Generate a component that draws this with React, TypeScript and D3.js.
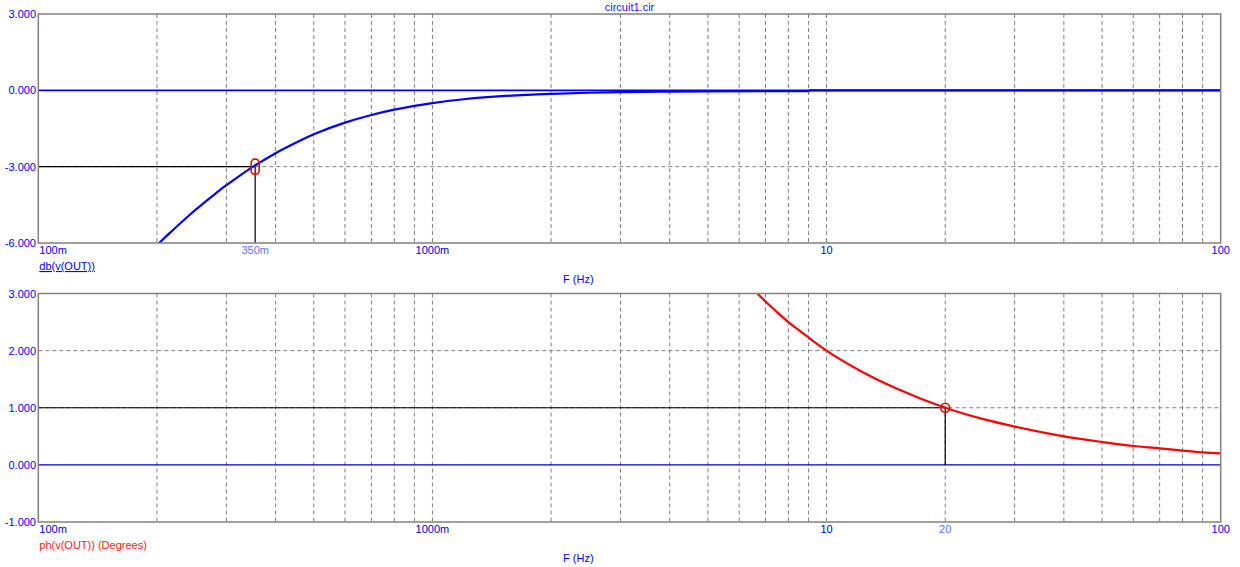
import React from "react";
import * as d3 from "d3";

// ---- data ----
const magFreq = [0.2, 0.21, 0.22, 0.24, 0.25, 0.26, 0.28, 0.3, 0.32, 0.35, 0.4, 0.45, 0.5, 0.6, 0.7, 0.8, 0.9, 1.0, 1.2, 1.5, 2, 2.5, 3, 4, 5, 7, 9, 9.05, 20, 50, 100];
const magDb = [-6.09, -5.77, -5.48, -4.95, -4.71, -4.49, -4.09, -3.73, -3.42, -3.01, -2.47, -2.06, -1.73, -1.27, -0.97, -0.76, -0.61, -0.5, -0.35, -0.23, -0.14, -0.095, -0.07, -0.05, -0.04, -0.035, -0.035, 0.0, 0.0, 0.0, 0.0];
const phFreq = [6.5, 7, 7.5, 8, 8.5, 9, 10, 12, 15, 20, 25, 30, 40, 50, 60, 70, 80, 90, 100];
const phDeg = [3.08, 2.86, 2.67, 2.5, 2.36, 2.23, 2.0, 1.67, 1.34, 1.0, 0.8, 0.67, 0.5, 0.4, 0.33, 0.29, 0.25, 0.22, 0.2];

const xTickVals = [0.1, 1, 10, 100];
const xTickText = ["100m", "1000m", "10", "100"];
const topYTicks = [3, 0, -3, -6];
const botYTicks = [3, 2, 1, 0, -1];
const topMarker = { f: 0.355, v: -3.0, label: "350m" };
const botMarker = { f: 20, v: 1.0, label: "20" };
const title = "circuit1.cir";
const topTrace = "db(v(OUT))";
const botTrace = "ph(v(OUT)) (Degrees)";
const xLabel = "F (Hz)";

const FONT = "'Liberation Sans', Arial, sans-serif";
const L = 38.3;
const R = 1220.7;
const GRID = "#808080";

const x = d3.scaleLog().domain([0.1, 100]).range([L, R]);
const gridFreqs: number[] = [];
[0.1, 1, 10].forEach((d) => {
  for (let k = 1; k <= 9; k++) {
    const v = d * k;
    if (v > 0.1 && v < 100) gridFreqs.push(v);
  }
});

function Panel(props: {
  top: number;
  bottom: number;
  domain: [number, number];
  yTicks: number[];
  freq: number[];
  vals: number[];
  color: string;
  zeroColor: string;
  zeroWidth: number;
  marker: { f: number; v: number; label: string };
  markerBase: number;
  markerShape: "rect" | "circle";
  traceLabel: string;
  traceColor: string;
  underline: boolean;
  id: string;
}) {
  const { top, bottom } = props;
  const y = d3.scaleLinear().domain(props.domain).range([top, bottom]);
  const line = d3
    .line<number>()
    .x((_, i) => x(props.freq[i]))
    .y((d) => y(d))
    .curve(d3.curveMonotoneX);
  const pts = props.vals;
  const mx = x(props.marker.f);
  const my = y(props.marker.v);
  const baseY = y(props.markerBase);
  const labelY = bottom + 11;
  return (
    <g>
      <defs>
        <clipPath id={props.id}>
          <rect x={L} y={top} width={R - L} height={bottom - top} />
        </clipPath>
      </defs>
      {gridFreqs.map((f, i) => (
        <line key={"v" + i} x1={x(f)} x2={x(f)} y1={top} y2={bottom} stroke={GRID} strokeWidth={1} strokeDasharray="4,3" />
      ))}
      {props.yTicks
        .filter((t) => t !== props.domain[0] && t !== props.domain[1] && t !== 0)
        .map((t, i) => (
          <line key={"h" + i} x1={L} x2={R} y1={y(t)} y2={y(t)} stroke={GRID} strokeWidth={1} strokeDasharray="4,3" />
        ))}
      <line x1={L} x2={R} y1={y(0)} y2={y(0)} stroke={props.zeroColor} strokeWidth={props.zeroWidth} />
      <line x1={L} x2={mx} y1={my} y2={my} stroke="#000" strokeWidth={1.2} />
      <line x1={mx} x2={mx} y1={my} y2={baseY} stroke="#000" strokeWidth={1.2} />
      <path d={line(pts) || ""} fill="none" stroke={props.color} strokeWidth={2.2} clipPath={`url(#${props.id})`} />
      {props.markerShape === "rect" ? (
        <rect x={mx - 4} y={my - 7.5} width={8} height={15} rx={3.5} fill="none" stroke="#ff0000" strokeWidth={1.6} />
      ) : (
        <circle cx={mx} cy={my} r={4.5} fill="none" stroke="#ff0000" strokeWidth={1.6} />
      )}
      <rect x={L} y={top} width={R - L} height={bottom - top} fill="none" stroke={GRID} strokeWidth={1.5} />
      {props.yTicks.map((t, i) => (
        <text key={"yl" + i} x={36} y={y(t) + 4} textAnchor="end" fontFamily={FONT} fontSize={11} fill="#0000ff">
          {t.toFixed(3)}
        </text>
      ))}
      {xTickVals.map((v, i) => (
        <text
          key={"xl" + i}
          x={i === 0 ? L + 1 : x(v)}
          y={labelY}
          textAnchor={i === 0 ? "start" : "middle"}
          fontFamily={FONT}
          fontSize={11}
          fill={i === 0 || i === 3 ? "#0000ff" : "#0000cc"}
        >
          {xTickText[i]}
        </text>
      ))}
      <text x={mx} y={labelY} textAnchor="middle" fontFamily={FONT} fontSize={11} fill="#5577ff">
        {props.marker.label}
      </text>
      <text
        x={L + 1}
        y={bottom + 27}
        fontFamily={FONT}
        fontSize={11}
        fill={props.traceColor}
        textDecoration={props.underline ? "underline" : undefined}
      >
        {props.traceLabel}
      </text>
      <text x={563} y={bottom + 40} fontFamily={FONT} fontSize={11} fill="#0000ff">
        {xLabel}
      </text>
    </g>
  );
}

export default function App() {
  return (
    <svg width={1240} height={567} style={{ position: "absolute", left: 0, top: 0, background: "#fff" }}>
      <rect x={0} y={0} width={1240} height={567} fill="#fff" />
      <text x={(L + R) / 2} y={11} textAnchor="middle" fontFamily={FONT} fontSize={11} fill="#2020ff">
        {title}
      </text>
      <Panel
        id="clipTop"
        top={14}
        bottom={243}
        domain={[3, -6]}
        yTicks={topYTicks}
        freq={magFreq}
        vals={magDb}
        color="#0000ff"
        zeroColor="#0000ff"
        zeroWidth={1.6}
        marker={topMarker}
        markerBase={-6}
        markerShape="rect"
        traceLabel={topTrace}
        traceColor="#0000ff"
        underline={true}
      />
      <Panel
        id="clipBot"
        top={293.5}
        bottom={522}
        domain={[3, -1]}
        yTicks={botYTicks}
        freq={phFreq}
        vals={phDeg}
        color="#ff0000"
        zeroColor="#0000c8"
        zeroWidth={1.2}
        marker={botMarker}
        markerBase={0}
        markerShape="circle"
        traceLabel={botTrace}
        traceColor="#ff2020"
        underline={false}
      />
    </svg>
  );
}
